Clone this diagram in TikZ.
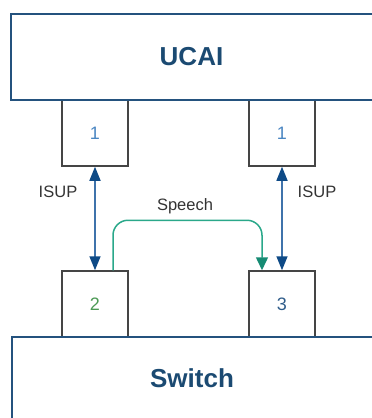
\documentclass[tikz,border=0pt]{standalone}
\usepackage{fontspec}
\setmainfont{Liberation Sans}
\usetikzlibrary{arrows.meta}
\definecolor{titleblue}{HTML}{1B4A72}
\definecolor{boxblue}{HTML}{24527E}
\definecolor{portgrey}{HTML}{454545}
\definecolor{oneblue}{HTML}{4A86C2}
\definecolor{twogreen}{HTML}{4C9A55}
\definecolor{threeblue}{HTML}{2F5C8A}
\definecolor{isupline}{HTML}{3F73AB}
\definecolor{isuphead}{HTML}{0E4A86}
\definecolor{speechline}{HTML}{2AA88A}
\definecolor{speechhead}{HTML}{168B73}
\definecolor{lblgrey}{HTML}{333333}
\tikzset{
  bigbox/.style={inner sep=0pt},
  bigedge/.style={draw=boxblue, line width=2pt},
  title/.style={text=titleblue, font=\fontsize{26}{30}\selectfont\bfseries},
  port/.style={draw=portgrey, line width=1.5pt, fill=white, inner sep=0pt,
    minimum width=66pt, minimum height=66pt, font=\fontsize{18}{20}\selectfont},
  lbl/.style={font=\fontsize{16.5}{18}\selectfont, text=lblgrey},
  isup/.style={draw=isupline, line width=1.5pt,
    {Triangle[width=11pt,length=14pt,color=isuphead]}-{Triangle[width=11pt,length=14pt,color=isuphead]}},
  speech/.style={draw=speechline, line width=1.5pt, rounded corners=15pt,
    -{Triangle[width=12pt,length=13pt,color=speechhead]}}
}
\begin{document}
\begin{tikzpicture}[x=1pt,y=-1pt]
\useasboundingbox (0,0) rectangle (372,418);
% ports
\node[port, text=oneblue] (p1l) at (95,133) {1};
\node[port, text=oneblue] (p1r) at (282,133) {1};
\node[port, text=twogreen] (p2) at (95,304) {2};
\node[port, text=threeblue] (p3) at (282,304) {3};
% big boxes, running off the right edge
\node[bigbox, minimum width=361pt, minimum height=86pt] (ucai) at (191.5,57) {};
\node[bigbox, minimum width=360pt, minimum height=82pt] (switch) at (192,378) {};
\draw[bigedge] (ucai.north east) -- (ucai.north west) -- (ucai.south west) -- (ucai.south east);
\draw[bigedge] (switch.south west) -- (switch.north west) -- (switch.north east);
\node[title] (ucaitxt) at (ucai) {UCAI};
\node[title] (switchtxt) at (switch) {Switch};
% signalling
\draw[isup] (p1l.south) -- (p2.north);
\draw[isup] (p1r.south) -- (p3.north);
\node[lbl] (isupl) at (58,192) {ISUP};
\node[lbl] (isupr) at (317,192) {ISUP};
% speech path
\draw[speech] ([xshift=18pt]p2.north) -- ++(0,-50) -| ([xshift=-20pt]p3.north);
\node[lbl] (speechlbl) at (185,206) {Speech};
\end{tikzpicture}
\end{document}
